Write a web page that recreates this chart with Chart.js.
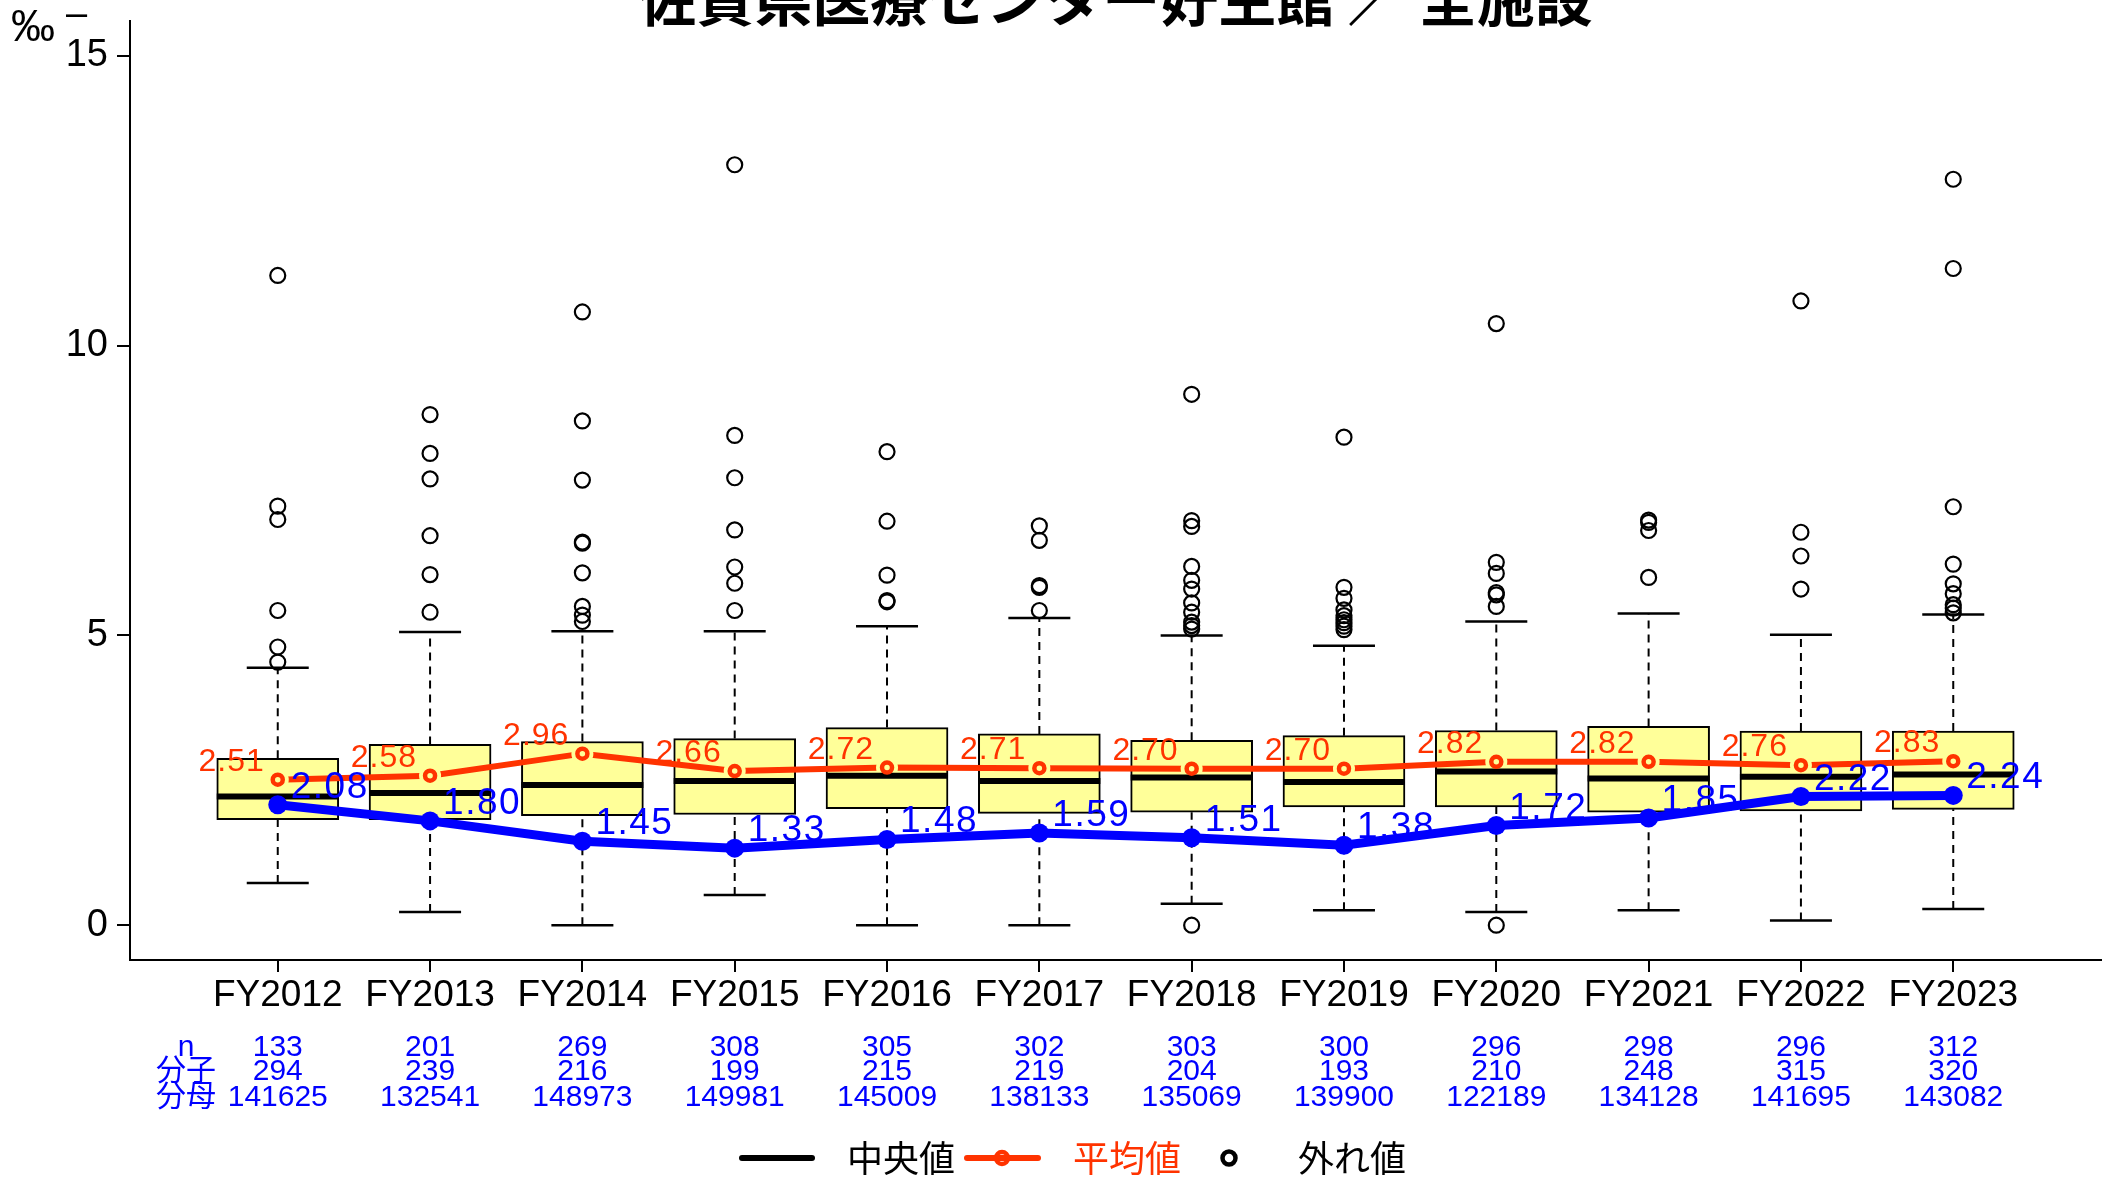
<!DOCTYPE html>
<html>
<head>
<meta charset="utf-8">
<script src="https://cdn.jsdelivr.net/npm/chart.js@4.4.1/dist/chart.umd.min.js"></script>
<style>
  body { margin: 0; background: #fff; }
  #wrap { width: 2109px; height: 1181px; }
</style>
</head>
<body>
<div id="wrap"><canvas id="myChart"></canvas></div>
<script>
const FONT = "'Liberation Sans', 'Noto Sans CJK JP', sans-serif"
const JP = "'Noto Sans CJK JP', 'Liberation Sans', sans-serif"
const RED = '#FF3300'
const BLUE = '#0000FF'

// categories
const years = ['FY2012', 'FY2013', 'FY2014', 'FY2015', 'FY2016', 'FY2017', 'FY2018', 'FY2019', 'FY2020', 'FY2021', 'FY2022', 'FY2023']
const yTicks = [0, 5, 10, 15]

// box plot stats (permil)
const whiskerLow = [0.73, 0.23, 0.00, 0.52, 0.00, 0.00, 0.37, 0.26, 0.23, 0.26, 0.08, 0.28]
const q1 = [1.82, 1.82, 1.89, 1.91, 2.01, 1.93, 1.95, 2.04, 2.04, 1.95, 1.97, 2.00]
const median = [2.22, 2.28, 2.42, 2.49, 2.58, 2.49, 2.55, 2.47, 2.65, 2.53, 2.56, 2.60]
const q3 = [2.88, 3.12, 3.17, 3.22, 3.41, 3.30, 3.19, 3.27, 3.36, 3.43, 3.35, 3.35]
const whiskerHigh = [4.44, 5.06, 5.07, 5.07, 5.16, 5.30, 5.00, 4.82, 5.24, 5.38, 5.01, 5.36]
const outliers = [
    [11.21, 7.23, 7.00, 5.43, 4.80, 4.54],
    [8.81, 8.14, 7.70, 6.72, 6.05, 5.40],
    [10.58, 8.70, 7.68, 6.61, 6.59, 6.08, 5.50, 5.35, 5.24],
    [13.12, 8.45, 7.72, 6.82, 6.18, 5.90, 5.43],
    [8.17, 6.97, 6.04, 5.60, 5.58],
    [6.89, 6.64, 5.86, 5.83, 5.43],
    [9.16, 6.98, 6.88, 6.19, 5.95, 5.80, 5.56, 5.40, 5.23, 5.17, 5.11, 0.00],
    [8.42, 5.83, 5.64, 5.44, 5.34, 5.27, 5.22, 5.16, 5.10],
    [10.38, 6.26, 6.07, 5.74, 5.70, 5.50, 0.00],
    [6.99, 6.95, 6.81, 6.00],
    [10.77, 6.78, 6.37, 5.80],
    [12.87, 11.33, 7.22, 6.23, 5.89, 5.72, 5.53, 5.47, 5.39]
]

// lines
const meanValues = [2.51, 2.58, 2.96, 2.66, 2.72, 2.71, 2.70, 2.70, 2.82, 2.82, 2.76, 2.83]
const overallRate = [2.08, 1.80, 1.45, 1.33, 1.48, 1.59, 1.51, 1.38, 1.72, 1.85, 2.22, 2.24]

// table under the axis
const nCount = [133, 201, 269, 308, 305, 302, 303, 300, 296, 298, 296, 312]
const numerator = [294, 239, 216, 199, 215, 219, 204, 193, 210, 248, 315, 320]
const denominator = [141625, 132541, 148973, 149981, 145009, 138133, 135069, 139900, 122189, 134128, 141695, 143082]

const xPos = years.map((_, i) => i + 1)
const pts = arr => arr.map((v, i) => ({ x: xPos[i], y: v }))

// dashed whiskers: two segments per year, broken by nulls
const whiskerData = []
xPos.forEach((x, i) => {
    whiskerData.push({ x, y: q3[i] }, { x, y: whiskerHigh[i] }, { x, y: null })
    whiskerData.push({ x, y: whiskerLow[i] }, { x, y: q1[i] }, { x, y: null })
})
const capData = pts(whiskerHigh).concat(pts(whiskerLow))
const outlierData = []
outliers.forEach((list, i) => list.forEach(v => outlierData.push({ x: xPos[i], y: v })))

// scales must not reserve room for their labels, the plot area is fixed
const noPad = s => { s.paddingTop = 0; s.paddingBottom = 0; s.paddingLeft = 0; s.paddingRight = 0 }

// cut small gaps round the mean points (R type="b")
const gapPlugin = {
    id: 'gapPlugin',
    beforeDatasetDraw(chart, args) {
        if (chart.data.datasets[args.index].label !== 'meanLine') return
        const ctx = chart.ctx
        const xs = chart.scales.x, ys = chart.scales.y
        ctx.save()
        ctx.beginPath()
        ctx.rect(0, 0, chart.width, chart.height)
        meanValues.forEach((v, i) => {
            const px = xs.getPixelForValue(xPos[i]), py = ys.getPixelForValue(v)
            ctx.moveTo(px + 11, py)
            ctx.arc(px, py, 11, 0, Math.PI * 2)
        })
        ctx.clip('evenodd')
    },
    afterDatasetDraw(chart, args) {
        if (chart.data.datasets[args.index].label !== 'meanLine') return
        chart.ctx.restore()
    }
}

const textPlugin = {
    id: 'textPlugin',
    afterDraw(chart) {
        const ctx = chart.ctx
        const xs = chart.scales.x, ys = chart.scales.y
        ctx.save()

        // value labels
        ctx.textBaseline = 'alphabetic'
        ctx.font = '32px ' + FONT
        ctx.letterSpacing = '1px'
        ctx.fillStyle = RED
        ctx.textAlign = 'right'
        meanValues.forEach((v, i) => {
            ctx.fillText(v.toFixed(2), xs.getPixelForValue(xPos[i]) - 13, ys.getPixelForValue(v) - 9)
        })
        ctx.font = '37px ' + FONT
        ctx.letterSpacing = '1.5px'
        ctx.fillStyle = BLUE
        ctx.textAlign = 'left'
        overallRate.forEach((v, i) => {
            ctx.fillText(v.toFixed(2), xs.getPixelForValue(xPos[i]) + 13, ys.getPixelForValue(v) - 7)
        })
        ctx.letterSpacing = '0px'

        // title (top is cut off like the original)
        ctx.fillStyle = '#000'
        ctx.textAlign = 'center'
        ctx.font = 'bold 58px ' + JP
        ctx.fillText('佐賀県医療センター好生館 ／ 全施設', (chart.chartArea.left + chart.chartArea.right) / 2, 21)

        // unit
        ctx.textAlign = 'left'
        ctx.font = '44px ' + FONT
        ctx.fillText('‰', 11, 41)
        ctx.font = '38px ' + FONT
        ctx.fillText('–', 66, 26)

        // n / numerator / denominator rows
        ctx.fillStyle = BLUE
        ctx.textBaseline = 'middle'
        ctx.textAlign = 'center'
        const rows = [['n', nCount, 1048], ['分子', numerator, 1072], ['分母', denominator, 1098]]
        rows.forEach(([label, vals, y]) => {
            ctx.font = '30px ' + FONT
            ctx.fillText(label, 186, y)
            vals.forEach((v, i) => ctx.fillText(String(v), xs.getPixelForValue(xPos[i]), y))
        })

        // legend
        const ly = 1158
        ctx.lineCap = 'round'
        ctx.strokeStyle = '#000'
        ctx.lineWidth = 6
        ctx.beginPath(); ctx.moveTo(742, ly); ctx.lineTo(812, ly); ctx.stroke()
        ctx.strokeStyle = RED
        ctx.lineWidth = 6
        ctx.beginPath(); ctx.moveTo(967, ly); ctx.lineTo(1038, ly); ctx.stroke()
        ctx.lineWidth = 4.5
        ctx.beginPath(); ctx.arc(1002, ly, 6, 0, Math.PI * 2); ctx.stroke()
        ctx.strokeStyle = '#000'
        ctx.lineWidth = 4.5
        ctx.beginPath(); ctx.arc(1229, ly, 6.5, 0, Math.PI * 2); ctx.stroke()
        ctx.textAlign = 'left'
        ctx.font = '36px ' + JP
        ctx.fillStyle = '#000'
        ctx.fillText('中央値', 847, ly)
        ctx.fillStyle = RED
        ctx.fillText('平均値', 1073, ly)
        ctx.fillStyle = '#000'
        ctx.fillText('外れ値', 1298, ly)
        ctx.restore()
    }
}

const ctx = document.getElementById('myChart').getContext('2d')

const myChart = new Chart(ctx, {
    type: 'bar',
    data: {
        datasets: [
            {
                type: 'line', label: 'rate', data: pts(overallRate),
                borderColor: BLUE, backgroundColor: BLUE, borderWidth: 9,
                pointRadius: 9.5, pointBackgroundColor: BLUE, pointBorderWidth: 0, order: 1
            },
            {
                type: 'scatter', label: 'meanPoints', data: pts(meanValues),
                pointStyle: 'circle', pointRadius: 5, pointBorderWidth: 4.5,
                pointBorderColor: RED, borderColor: RED, pointBackgroundColor: 'rgba(0,0,0,0)', order: 2
            },
            {
                type: 'line', label: 'meanLine', data: pts(meanValues),
                borderColor: RED, borderWidth: 6, pointRadius: 0, order: 3
            },
            {
                type: 'scatter', label: 'outliers', data: outlierData,
                pointStyle: 'circle', pointRadius: 7.5, pointBorderWidth: 2.2,
                pointBorderColor: '#000', borderColor: '#000', pointBackgroundColor: 'rgba(0,0,0,0)', order: 4
            },
            {
                type: 'scatter', label: 'median', data: pts(median),
                pointStyle: 'line', pointRadius: 61, pointBorderWidth: 6,
                pointBorderColor: '#000', borderColor: '#000', order: 5
            },
            {
                type: 'bar', label: 'box', data: xPos.map((x, i) => ({ x, y: [q1[i], q3[i]] })),
                backgroundColor: '#FFFF99', borderColor: '#000', borderWidth: 2,
                borderSkipped: false, barThickness: 122, order: 6
            },
            {
                type: 'scatter', label: 'caps', data: capData,
                pointStyle: 'line', pointRadius: 31, pointBorderWidth: 2.5,
                pointBorderColor: '#000', borderColor: '#000', order: 7
            },
            {
                type: 'line', label: 'whiskers', data: whiskerData,
                borderColor: '#000', borderWidth: 2, borderDash: [8, 6],
                pointRadius: 0, spanGaps: false, order: 8
            }
        ]
    },
    options: {
        responsive: true,
        maintainAspectRatio: false,
        devicePixelRatio: 1,
        animation: false,
        events: [],
        layout: { autoPadding: false, padding: { top: 21, right: 8, left: 0, bottom: 0 } },
        plugins: { legend: { display: false }, tooltip: { enabled: false }, title: { display: false } },
        scales: {
            x: {
                type: 'linear', min: 0.03, max: 12.97, offset: false,
                afterBuildTicks: s => { s.ticks = xPos.map(v => ({ value: v })) },
                afterFit: s => { s.height = 221; noPad(s) },
                ticks: {
                    autoSkip: false, maxRotation: 0, padding: 2, color: '#000',
                    font: { size: 37, family: FONT },
                    callback: v => years[Math.round(v) - 1]
                },
                grid: { display: true, offset: false, drawOnChartArea: false, drawTicks: true, tickLength: 12, color: '#000', lineWidth: 2 },
                border: { display: true, color: '#000', width: 2 }
            },
            y: {
                min: -0.6, max: 15.6,
                afterBuildTicks: s => { s.ticks = yTicks.map(v => ({ value: v })) },
                afterFit: s => { s.width = 130; noPad(s) },
                ticks: { padding: 9, color: '#000', font: { size: 38, family: FONT } },
                grid: { display: true, drawOnChartArea: false, drawTicks: true, tickLength: 13, color: '#000', lineWidth: 2 },
                border: { display: true, color: '#000', width: 2 }
            }
        }
    },
    plugins: [gapPlugin, textPlugin]
})
</script>
</body>
</html>
